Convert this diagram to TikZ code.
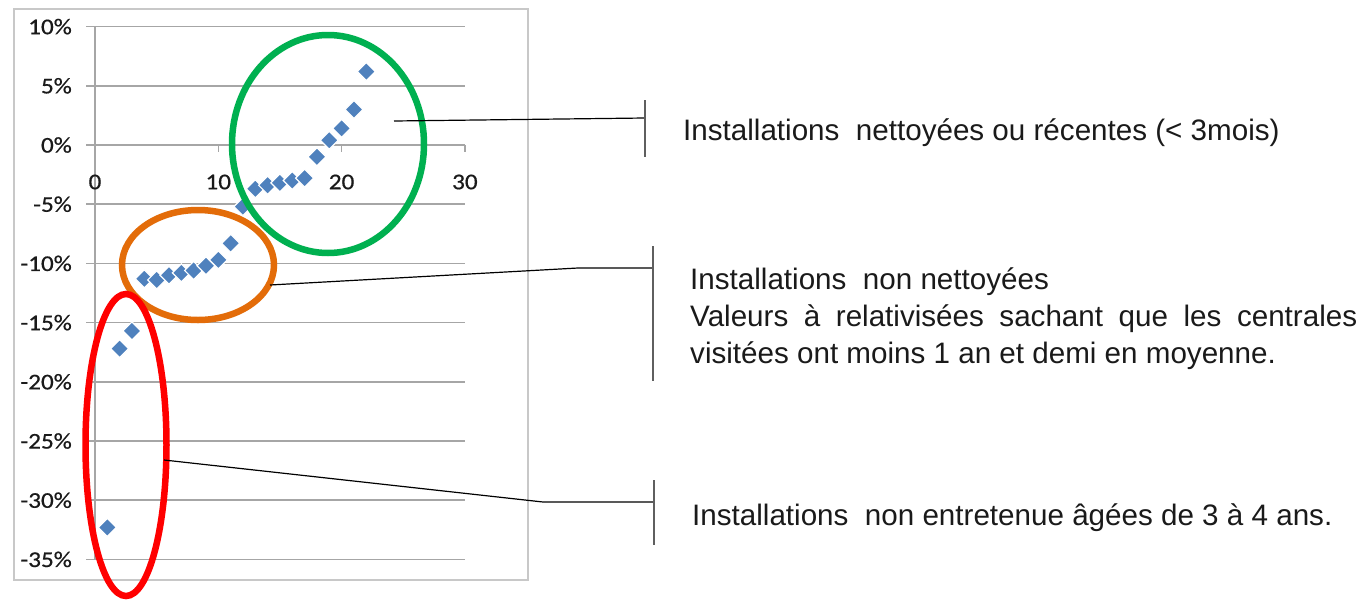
\documentclass[tikz,border=0pt]{standalone}
\usepackage{fontspec}
\setmainfont{Liberation Sans}
\newfontfamily\chartfont[FakeStretch=1.12, FakeBold=0.6]{Carlito}
\usetikzlibrary{shapes.geometric}
\definecolor{gridgray}{HTML}{A6A6A6}
\definecolor{framegray}{HTML}{C8C8C8}
\definecolor{bargray}{HTML}{5F5F5F}
\definecolor{pointblue}{HTML}{4F81BD}
\definecolor{ringgreen}{HTML}{00B050}
\definecolor{ringorange}{HTML}{E36C09}
\definecolor{ringred}{HTML}{FF0000}
\definecolor{inkdark}{HTML}{1A1A1A}
\begin{document}
\begin{tikzpicture}[x=1pt, y=-1pt]
            \tikzset{grid/.style={gridgray, line width=1.6}}
            \tikzset{ring/.style={ellipse, draw, line width=6.5, inner sep=0}}
            \tikzset{point/.style={fill=pointblue, draw=white, line width=1.2}}
            \tikzset{leader/.style={black, line width=1.2}}
            \tikzset{bar/.style={bargray, line width=2.2}}
            \tikzset{tick/.style={font=\chartfont\fontsize{22.5}{26}\selectfont, text=inkdark, inner sep=0}}
            \tikzset{label/.style={font=\fontsize{29.6}{37}\selectfont, text=inkdark, inner sep=0}}
            \useasboundingbox (0,0) rectangle (1363,600);
            \fill[white] (0,0) rectangle (1363,600);
            % chart frame
            \draw[framegray, line width=2] (14,9) rectangle (528,580);
            % horizontal grid and y labels
            \foreach \v in {10,5,...,-35}
            {
                \draw[grid] (86,{145-11.84*\v}) -- (465,{145-11.84*\v});
                \node[tick, anchor=east] at (72,{145-11.84*\v}) {\v\%};
            }
            \draw[grid] (95,{145-11.84*10}) -- (95,{145+11.84*35});
            % x ticks and labels
            \foreach \u in {0,10,20,30}
            {
                \draw[grid] ({95+12.33*\u},145) -- ({95+12.33*\u},152);
                \node[tick] at ({95+12.33*\u},182) {\u};
            }
            % data points
            \foreach \u/\v in {1/-32.3, 2/-17.2, 3/-15.7, 4/-11.3, 5/-11.4, 6/-11.0,
                               7/-10.8, 8/-10.6, 9/-10.2, 10/-9.7, 11/-8.3, 12/-5.2,
                               13/-3.7, 14/-3.4, 15/-3.2, 16/-3.0, 17/-2.8, 18/-1.0,
                               19/0.4, 20/1.4, 21/3.0, 22/6.2}
            {
                \filldraw[point] ({95+12.33*\u},{145-11.84*\v}) +(-9,0) -- +(0,-9) -- +(9,0) -- +(0,9) -- cycle;
            }
            % groups
            \node[ring, draw=ringgreen, minimum width=192, minimum height=218] (recent) at (328,144) {};
            \node[ring, draw=ringorange, minimum width=152, minimum height=110] (dirty) at (198,265) {};
            \node[ring, draw=ringred, minimum width=81, minimum height=302] (old) at (126,445) {};
            % leaders
            \coordinate (recent-in) at (394,121);
            \coordinate (recent-bar) at (645,118);
            \coordinate (dirty-in) at (270,285);
            \coordinate (dirty-knee) at (578,268);
            \coordinate (dirty-bar) at (653,268);
            \coordinate (old-in) at (164,460);
            \coordinate (old-knee) at (543,502);
            \coordinate (old-bar) at (654,502);
            \draw[leader] (recent-in) -- (recent-bar);
            \draw[leader] (dirty-in) -- (dirty-knee) -- (dirty-bar);
            \draw[leader] (old-in) -- (old-knee) -- (old-bar);
            \draw[bar] (645,100) -- (645,157);
            \draw[bar] (653,246) -- (653,381);
            \draw[bar] (654,480) -- (654,545);
            % texts
            \node[label, anchor=base west] (recent-text) at (683,140)
                {Installations\ \ nettoyées ou récentes (< 3mois)};
            \node[label, anchor=north west, align=left] (dirty-text) at (690,267)
                {Installations\ \ non nettoyées\\
                 \makebox[667pt][s]{Valeurs à relativisées sachant que les centrales}\\
                 visitées ont moins 1 an et demi en moyenne.};
            \node[label, anchor=base west] (old-text) at (692,525)
                {Installations\ \ non entretenue âgées de 3 à 4 ans.};
        \end{tikzpicture}
\end{document}
